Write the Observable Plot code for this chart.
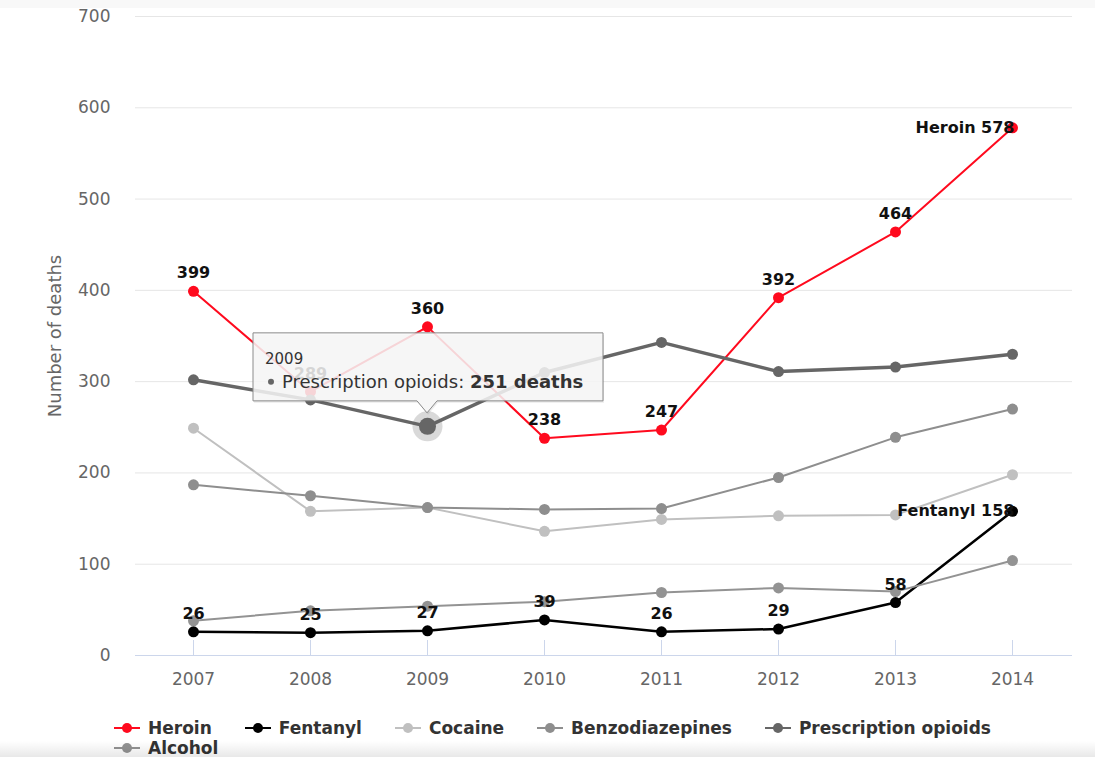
<!DOCTYPE html>
<html>
<head>
<meta charset="utf-8">
<script src="https://cdn.jsdelivr.net/npm/d3@7"></script>
<script src="https://cdn.jsdelivr.net/npm/@observablehq/plot@0.6"></script>
<style>
  html, body { margin: 0; padding: 0; background: #fff; width: 1095px; height: 757px; overflow: hidden; position: relative; }
  #topband { position: absolute; left: 0; top: 0; width: 1095px; height: 8px; background: #f8f8f8; }
  #bottomshade { position: absolute; left: 0; top: 741px; width: 1095px; height: 16px; background: linear-gradient(to bottom, rgba(0,0,0,0), rgba(0,0,0,0.09)); pointer-events: none; }
  #legend { display: flex; flex-wrap: wrap; column-gap: 33px; padding-left: 114px; margin-top: 18px; width: 940px; font: bold 17px "DejaVu Sans", sans-serif; color: #333; }
  .item { display: flex; align-items: center; height: 20px; }
  .item span { margin-left: 8px; }
  #chart svg { display: block; }
</style>
</head>
<body>
<div id="topband"></div>
<div id="chart"></div>
<div id="legend"></div>
<div id="bottomshade"></div>
<script>
// ---- data ----
const years = [2007, 2008, 2009, 2010, 2011, 2012, 2013, 2014];
const heroin = [399, 289, 360, 238, 247, 392, 464, 578];
const fentanyl = [26, 25, 27, 39, 26, 29, 58, 158];
const cocaine = [249, 158, 162, 136, 149, 153, 154, 198];
const benzodiazepines = [187, 175, 162, 160, 161, 195, 239, 270];
const prescriptionOpioids = [302, 280, 251, 310, 343, 311, 316, 330];
const alcohol = [38, 49, 54, 59, 69, 74, 70, 104];

const seriesNames = ["Heroin", "Fentanyl", "Cocaine", "Benzodiazepines", "Prescription opioids", "Alcohol"];
const seriesValues = [heroin, fentanyl, cocaine, benzodiazepines, prescriptionOpioids, alcohol];
const seriesColors = ["#ff0a1e", "#000000", "#c0c0c0", "#8e8e8e", "#666666", "#939393"];
const seriesWidths = [2, 2.5, 2, 2, 3.5, 2];
const labelledSeries = ["Heroin", "Fentanyl"];
const yTicks = [0, 100, 200, 300, 400, 500, 600, 700];
const hoverSeries = "Prescription opioids";
const hoverYear = 2009;

// long table built from the arrays
const table = seriesNames.flatMap((s, si) => years.map((yr, i) => ({series: s, year: yr, value: seriesValues[si][i], last: i === years.length - 1})));

const marks = [
  Plot.ruleY(yTicks.filter(d => d > 0), {stroke: "#e6e6e6", strokeWidth: 1}),
  Plot.ruleY([0], {stroke: "#ccd6eb", strokeWidth: 1}),
  Plot.ruleX(years, {x: d => d, y1: 0, y2: 0, insetTop: -15, stroke: "#ccd6eb"}),
  Plot.axisY({ticks: yTicks, tickSize: 0, tickPadding: 25, label: null, fontSize: 17}),
  Plot.axisX({ticks: years, tickSize: 0, tickPadding: 17, label: null, fontSize: 17, tickFormat: d => String(d)}),
  Plot.text(["Number of deaths"], {frameAnchor: "left", textAnchor: "middle", rotate: -90, dx: -80, fontSize: 18, fill: "#666"})
];

seriesNames.forEach((s, si) => {
  const rows = table.filter(d => d.series === s);
  marks.push(Plot.line(rows, {x: "year", y: "value", stroke: seriesColors[si], strokeWidth: seriesWidths[si]}));
  marks.push(Plot.dot(rows, {x: "year", y: "value", r: 5.5, fill: seriesColors[si], stroke: "none"}));
});

labelledSeries.forEach(s => {
  const rows = table.filter(d => d.series === s);
  marks.push(Plot.text(rows.filter(d => !d.last), {x: "year", y: "value", text: d => String(d.value), dy: -18, fontSize: 16, fontWeight: "bold", fill: "#111"}));
  marks.push(Plot.text(rows.filter(d => d.last), {x: "year", y: "value", text: d => `${d.series} ${d.value}`, textAnchor: "end", dx: 2, fontSize: 16, fontWeight: "bold", fill: "#111"}));
});

// hovered point with halo
const hovered = table.filter(d => d.series === hoverSeries && d.year === hoverYear);
marks.push(Plot.dot(hovered, {x: "year", y: "value", r: 15, fill: "#666", fillOpacity: 0.25, stroke: "none"}));
marks.push(Plot.dot(hovered, {x: "year", y: "value", r: 8.5, fill: "#666", stroke: "none"}));

const plot = Plot.plot({
  width: 1095,
  height: 700,
  marginTop: 16,
  marginBottom: 45,
  marginLeft: 135,
  marginRight: 23,
  style: {fontFamily: "DejaVu Sans, sans-serif", fontSize: "17px", color: "#666", background: "transparent"},
  x: {type: "point", domain: years, range: [190, 1014], padding: 0},
  y: {domain: [0, 700]},
  marks
});
document.getElementById("chart").appendChild(plot);

// tooltip drawn at the hovered point using the plot's scales
const hp = hovered[0];
const px = plot.scale("x").apply(hp.year);
const py = plot.scale("y").apply(hp.value);
const svg = d3.select(plot);
const g = svg.append("g").attr("transform", `translate(${px},${py})`).attr("text-anchor", "start");
const tipPath = "M-174,-93 H176 V-25 H10 L0,-13 L-10,-25 H-174 Z";
g.append("path").attr("d", tipPath).attr("transform", "translate(1,2)").attr("fill", "rgba(0,0,0,0.08)");
g.append("path").attr("d", tipPath).attr("fill", "rgba(248,248,248,0.85)").attr("stroke", "#8a8a8a").attr("stroke-width", 1);
g.append("text").attr("x", -162).attr("y", -62).attr("text-anchor", "start").attr("font-size", 15).attr("fill", "#333").text(String(hp.year));
g.append("circle").attr("cx", -156).attr("cy", -44).attr("r", 3).attr("fill", "#666");
const t2 = g.append("text").attr("x", -145).attr("y", -38).attr("text-anchor", "start").attr("font-size", 18).attr("fill", "#333");
t2.append("tspan").text(`${hp.series}: `);
t2.append("tspan").attr("font-weight", "bold").text(`${hp.value} deaths`);

// legend
const legend = document.getElementById("legend");
seriesNames.forEach((s, si) => {
  const item = document.createElement("div");
  item.className = "item";
  item.innerHTML = `<svg width="26" height="20"><line x1="0" x2="26" y1="10" y2="10" stroke="${seriesColors[si]}" stroke-width="2"/><circle cx="13" cy="10" r="5" fill="${seriesColors[si]}"/></svg><span>${s}</span>`;
  legend.appendChild(item);
});
</script>
</body>
</html>
